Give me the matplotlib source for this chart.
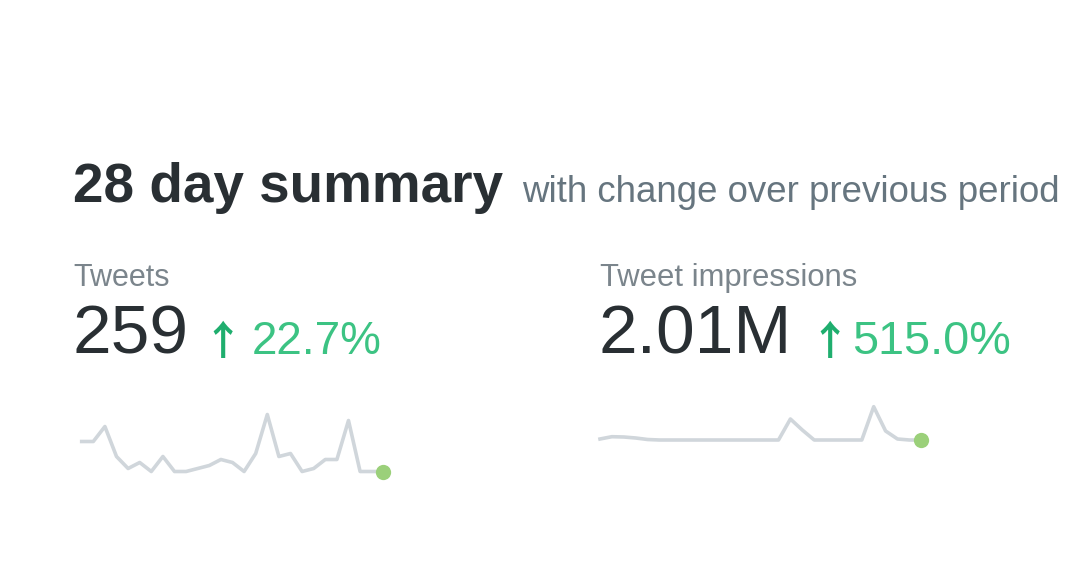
import matplotlib
matplotlib.use("Agg")
import matplotlib.pyplot as plt
import numpy as np

# -----------------------------
# Data
# -----------------------------
tweets_total = "259"
tweets_change = "22.7%"
impressions_total = "2.01M"
impressions_change = "515.0%"

# tweets per day
tweets_daily = [15, 15, 20, 10, 6, 8, 5, 10, 5, 5, 6, 7, 9, 8,
                5, 11, 24, 10, 11, 5, 6, 9, 9, 22, 5, 5, 5]
# impressions per day, in thousands
impressions_daily = [52, 75, 72, 62, 47, 42, 42, 42, 42, 42, 42, 42, 42, 42,
                     42, 42, 252, 142, 42, 42, 42, 42, 42, 375, 132, 52, 42, 42]

# -----------------------------
# Styling
# -----------------------------
W, H = 1080, 576
DARK = "#292f33"
GRAY = "#66757f"
LABEL = "#7b858c"
GREEN = "#3cc383"
ARROW = "#1fae6e"
LINE = "#d0d6db"
DOT = "#9bd07a"
FONT = "Liberation Sans"

fig = plt.figure(figsize=(W / 100, H / 100), dpi=100)
fig.patch.set_facecolor("white")


def px(x, y):
    # pixel position (top-left origin) -> figure fraction
    return x / W, 1 - y / H


def put(x, y, s, **kw):
    fx, fy = px(x, y)
    kw.setdefault("family", FONT)
    fig.text(fx, fy, s, va="baseline", ha="left", **kw)


# title row
put(73, 202, "28 day summary", fontsize=39.5, weight="bold", color=DARK)
put(522, 202, "with change over previous period", fontsize=26.4, color=GRAY)

# labels
put(73, 286, "Tweets", fontsize=22, color=LABEL)
put(600, 286, "Tweet impressions", fontsize=22.3, color=LABEL)

# big numbers + change
arrow_font = ["Noto Sans CJK SC", "DejaVu Sans"]
put(73, 354, tweets_total, fontsize=50, color=DARK)
put(202, 354, "\u2191", fontsize=29, color=ARROW, family=arrow_font, weight="bold")
put(252, 354, tweets_change, fontsize=33, color=GREEN)

put(598, 354, impressions_total, fontsize=50, color=DARK)
put(809, 354, "\u2191", fontsize=29, color=ARROW, family=arrow_font, weight="bold")
put(852, 354, impressions_change, fontsize=33.7, color=GREEN)


def sparkline(values, left, right, y_zero, px_per_unit, ymax):
    # axes box sized so that value 0 sits at y_zero (pixels) and ymax at the top
    height_px = ymax * px_per_unit
    ax = fig.add_axes([left / W, (H - y_zero) / H, (right - left) / W, height_px / H])
    x = np.arange(len(values))
    ax.plot(x, values, color=LINE, lw=2.6, solid_joinstyle="round", clip_on=False)
    ax.plot(x[-1], values[-1], "o", color=DOT, ms=11, mec="none", clip_on=False)
    ax.set_xlim(0, len(values) - 1)
    ax.set_ylim(0, ymax)
    ax.axis("off")
    return ax


sparkline(tweets_daily, 81.7, 383.3, 486.5, 3.0, 30)
sparkline(impressions_daily, 600, 921.3, 444.2, 0.1, 600)

fig.savefig("out.png", dpi=100, facecolor="white")
